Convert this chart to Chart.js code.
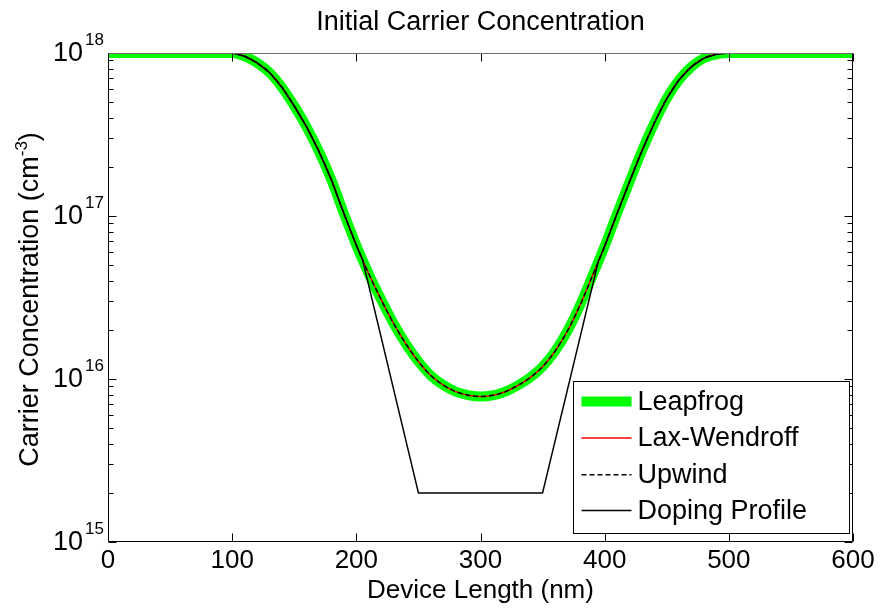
<!DOCTYPE html>
<html>
<head>
<meta charset="utf-8">
<title>Initial Carrier Concentration</title>
<script src="https://cdn.jsdelivr.net/npm/chart.js@4.4.1/dist/chart.umd.min.js"></script>
<style>
  html, body { margin: 0; padding: 0; background: #fff; }
  #chart { display: block; }
</style>
</head>
<body>
<canvas id="chart" width="882" height="609"></canvas>
<script>
// position along the device (nm)
var positionNm = [0, 100, 110, 120, 130, 140, 150, 160, 170, 180, 190,
    200, 210, 220, 230, 240, 250, 260, 270, 280, 290,
    300, 310, 320, 330, 340, 350, 360, 370, 380, 390,
    400, 410, 420, 430, 440, 450, 460, 470, 480, 490, 500, 600];

// initial carrier concentration (cm^-3) - all three schemes start from this profile
var carrierConc = [1e18, 1e18, 9.55e17, 8.71e17, 7.59e17, 6.17e17, 4.73e17, 3.51e17, 2.48e17, 1.66e17, 1.035e17,
    6.61e16, 4.42e16, 3.07e16, 2.19e16, 1.64e16, 1.28e16, 1.05e16, 9.18e15, 8.37e15, 7.96e15,
    7.8e15, 7.94e15, 8.36e15, 9.12e15, 1.02e16, 1.19e16, 1.48e16, 1.97e16, 2.82e16, 4.27e16,
    6.53e16, 1.035e17, 1.62e17, 2.51e17, 3.72e17, 5.25e17, 6.85e17, 8.25e17, 9.3e17, 9.82e17, 1e18, 1e18];

// doping profile breakpoints
var dopingNm = [0, 100, 110, 120, 130, 140, 150, 160, 170, 180, 190, 200, 205,
    250, 350,
    395, 400, 410, 420, 430, 440, 450, 460, 470, 480, 490, 500, 600];
var dopingConc = [1e18, 1e18, 9.55e17, 8.71e17, 7.59e17, 6.17e17, 4.73e17, 3.51e17, 2.48e17, 1.66e17, 1.035e17, 6.61e16, 5.4e16,
    2e15, 2e15,
    5.3e16, 6.53e16, 1.035e17, 1.62e17, 2.51e17, 3.72e17, 5.25e17, 6.85e17, 8.25e17, 9.3e17, 9.82e17, 1e18, 1e18];

var xTicks = [0, 100, 200, 300, 400, 500, 600];
var yDecades = [1e15, 1e16, 1e17, 1e18];
var yExponents = ['15', '16', '17', '18'];

var FONT = '"Liberation Sans", Arial, Helvetica, sans-serif';
Chart.defaults.font.family = FONT;
Chart.defaults.color = '#000';

function toPoints(xs, ys) {
    return xs.map(function (x, i) { return { x: x, y: ys[i] }; });
}

// box, inward ticks, y labels with exponents, y title and the legend
var matlabFrame = {
    id: 'matlabFrame',
    afterDatasetsDraw: function (chart) {
        var ctx = chart.ctx;
        var area = chart.chartArea;
        var xs = chart.scales.x, ys = chart.scales.y;
        var L = Math.round(area.left) + 0.5, R = Math.round(area.right) - 0.5;
        var T = Math.round(area.top) + 0.5, B = Math.round(area.bottom) - 0.5;

        ctx.save();
        ctx.lineWidth = 1;
        ctx.strokeStyle = '#000';
        ctx.beginPath();
        xTicks.forEach(function (v) {
            var px = Math.round(xs.getPixelForValue(v)) + 0.5;
            ctx.moveTo(px, B); ctx.lineTo(px, B - 8);
            ctx.moveTo(px, T); ctx.lineTo(px, T + 8);
        });
        yDecades.forEach(function (d) {
            for (var m = 1; m <= 9; m++) {
                var v = m * d;
                if (v > 1e18) break;
                var py = Math.round(ys.getPixelForValue(v)) + 0.5;
                var len = m === 1 ? 8 : 5;
                ctx.moveTo(L, py); ctx.lineTo(L + len, py);
                ctx.moveTo(R, py); ctx.lineTo(R - len, py);
            }
        });
        ctx.stroke();

        // frame
        ctx.beginPath();
        ctx.moveTo(L, T); ctx.lineTo(L, B); ctx.lineTo(R, B); ctx.lineTo(R, T);
        ctx.stroke();
        ctx.strokeStyle = '#6e6e6e';
        ctx.beginPath();
        ctx.moveTo(L, T); ctx.lineTo(R, T);
        ctx.stroke();

        // y tick labels 10^n
        ctx.fillStyle = '#000';
        yDecades.forEach(function (v, i) {
            var py = ys.getPixelForValue(v);
            ctx.font = '27px ' + FONT;
            ctx.textAlign = 'right';
            ctx.textBaseline = 'middle';
            ctx.fillText('10', area.left - 25, py + 1);
            ctx.font = '17px ' + FONT;
            ctx.textAlign = 'left';
            ctx.fillText(yExponents[i], area.left - 23, py - 13);
        });

        // y axis title with superscript
        var big = '27px ' + FONT, small = '17px ' + FONT;
        var parts = [['Carrier Concentration (cm', big, 0], ['-3', small, -11], [')', big, 0]];
        var total = 0;
        parts.forEach(function (p) { ctx.font = p[1]; total += ctx.measureText(p[0]).width; });
        ctx.translate(38, (area.top + area.bottom) / 2 + 2);
        ctx.rotate(-Math.PI / 2);
        ctx.textAlign = 'left';
        ctx.textBaseline = 'alphabetic';
        var cx = -total / 2;
        parts.forEach(function (p) {
            ctx.font = p[1];
            ctx.fillText(p[0], cx, p[2]);
            cx += ctx.measureText(p[0]).width;
        });
        ctx.restore();

        // legend box in the lower right corner
        ctx.save();
        var lw = 276, lh = 152;
        var lx = Math.round(area.right - 280) + 0.5, ly = Math.round(area.bottom - 161) + 0.5;
        ctx.fillStyle = '#fff';
        ctx.fillRect(lx, ly, lw, lh);
        ctx.strokeStyle = '#000';
        ctx.lineWidth = 1;
        ctx.strokeRect(lx, ly, lw, lh);
        var rows = [20, 56.5, 93.3, 129];
        chart.data.datasets.forEach(function (ds, i) {
            var yy = ly + rows[i];
            ctx.beginPath();
            ctx.strokeStyle = ds.borderColor;
            ctx.lineWidth = ds.borderWidth;
            ctx.setLineDash(ds.borderDash || []);
            ctx.moveTo(lx + 8, yy);
            ctx.lineTo(lx + 58, yy);
            ctx.stroke();
            ctx.setLineDash([]);
            ctx.fillStyle = '#000';
            ctx.font = '27px ' + FONT;
            ctx.textAlign = 'left';
            ctx.textBaseline = 'middle';
            ctx.fillText(ds.label, lx + 64, yy + 1);
        });
        ctx.restore();
    }
};

var ctx = document.getElementById('chart').getContext('2d');
var chart = new Chart(ctx, {
    type: 'line',
    data: {
        datasets: [
            {
                label: 'Leapfrog',
                data: toPoints(positionNm, carrierConc),
                borderColor: '#00ff00',
                borderWidth: 10,
                cubicInterpolationMode: 'monotone',
                order: 4
            },
            {
                label: 'Lax-Wendroff',
                data: toPoints(positionNm, carrierConc),
                borderColor: '#ff0000',
                borderWidth: 1.5,
                cubicInterpolationMode: 'monotone',
                order: 3
            },
            {
                label: 'Upwind',
                data: toPoints(positionNm, carrierConc),
                borderColor: '#000000',
                borderWidth: 1.5,
                borderDash: [5, 3],
                cubicInterpolationMode: 'monotone',
                order: 2
            },
            {
                label: 'Doping Profile',
                data: toPoints(dopingNm, dopingConc),
                borderColor: '#000000',
                borderWidth: 1.5,
                tension: 0,
                order: 1
            }
        ]
    },
    options: {
        responsive: false,
        devicePixelRatio: 1,
        animation: false,
        layout: { padding: { left: 0, right: 29, top: 0, bottom: 0 } },
        elements: {
            point: { radius: 0, hoverRadius: 0 },
            line: { fill: false, borderCapStyle: 'butt', borderJoinStyle: 'round' }
        },
        datasets: { line: { clip: 0 } },
        plugins: {
            legend: { display: false },
            tooltip: { enabled: false },
            title: {
                display: true,
                fullSize: false,
                text: 'Initial Carrier Concentration',
                color: '#000',
                font: { size: 27, weight: 'normal' },
                padding: { top: 6, bottom: 14.6 }
            }
        },
        scales: {
            x: {
                type: 'linear',
                min: 0,
                max: 600,
                afterBuildTicks: function (scale) {
                    scale.ticks = xTicks.map(function (v) { return { value: v }; });
                },
                ticks: { font: { size: 26 }, color: '#000', padding: 3, maxRotation: 0 },
                grid: { display: false, drawTicks: false },
                border: { display: false },
                title: {
                    display: true,
                    text: 'Device Length (nm)',
                    color: '#000',
                    font: { size: 26 },
                    padding: { top: 0, bottom: 3 }
                },
                afterFit: function (scale) { scale.height = 67; }
            },
            y: {
                type: 'logarithmic',
                min: 1e15,
                max: 1e18,
                ticks: { display: false },
                grid: { display: false, drawTicks: false },
                border: { display: false },
                afterFit: function (scale) { scale.width = 108; }
            }
        }
    },
    plugins: [matlabFrame]
});
</script>
</body>
</html>
